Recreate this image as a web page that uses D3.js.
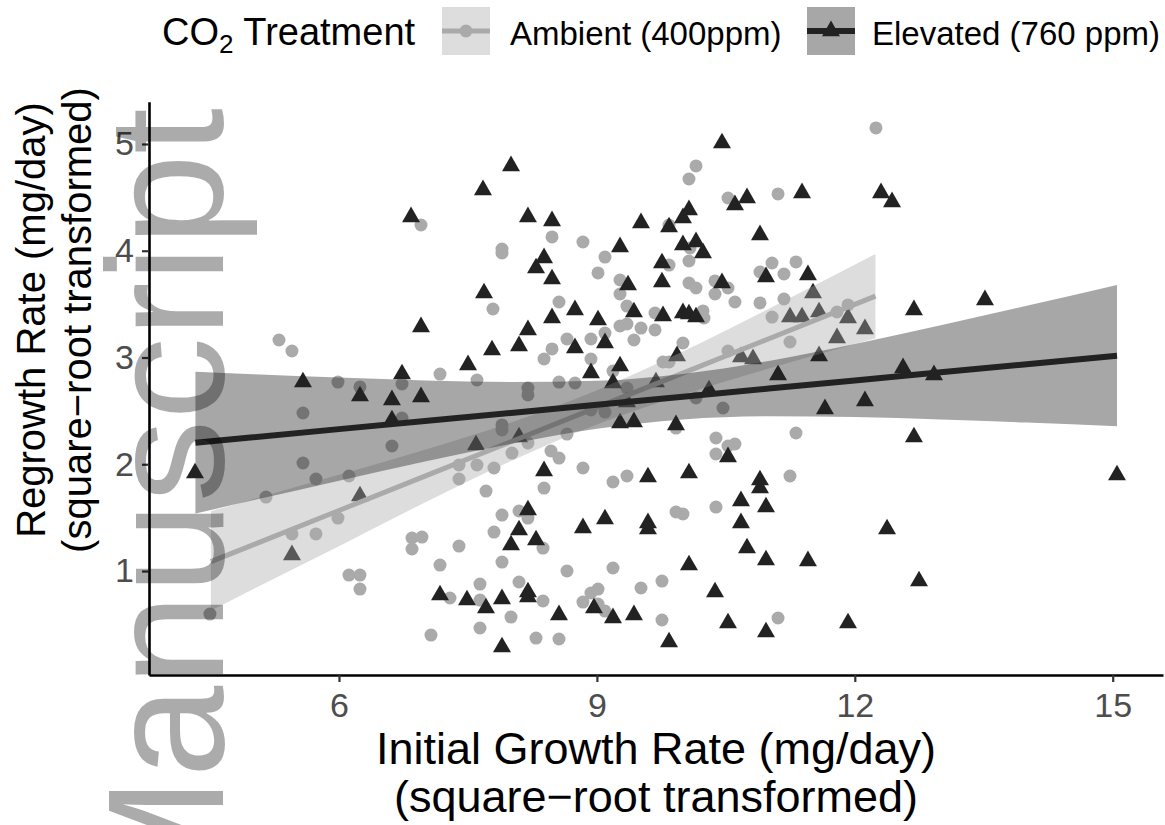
<!DOCTYPE html>
<html>
<head>
<meta charset="utf-8">
<script src="https://cdn.jsdelivr.net/npm/d3@7"></script>
<style>
  body { margin: 0; background: white; }
  text { font-family: "Liberation Sans", Arial, Helvetica, sans-serif; }
</style>
</head>
<body>
<div id="chart"></div>
<script>
var WIDTH = 1165;
var HEIGHT = 825;

// ambient (400ppm) points
const ambientX = [6.954,7.791,5.302,5.453,7.175,7.605,5.988,6.244,10.153,10.071,10.525,11.107,9.839,8.478,7.896,7.896,8.838,10.083,9.094,9.839,
  10.071,11.037,11.316,10.897,11.176,9.013,9.269,10.071,10.153,10.374,10.525,10.374,9.269,8.559,10.606,10.897,11.176,9.350,9.676,10.234,
  10.246,11.037,9.269,9.350,9.513,9.676,9.094,8.652,8.478,8.931,9.431,10.001,10.525,11.246,8.385,8.931,9.769,9.839,9.187,8.559,
  8.745,8.198,12.246,11.793,11.921,8.198,9.350,10.153,10.467,7.896,7.896,8.652,8.012,8.466,8.559,8.198,7.803,7.710,9.920,10.385,
  10.525,10.606,10.385,11.316,8.838,8.385,9.187,9.350,11.246,10.385,9.920,10.001,8.094,8.198,7.896,7.803,8.373,7.896,8.652,9.187,
  7.640,8.094,9.757,9.513,8.931,9.013,8.838,9.013,9.094,7.640,8.373,8.001,9.757,11.107,7.640,8.292,8.559,5.581,6.733,6.616,
  5.581,5.732,6.116,5.151,7.396,7.605,7.396,5.988,5.453,5.732,6.849,6.965,6.849,7.396,7.175,6.116,6.244,6.244,7.291,4.499,
  7.070,6.733,8.931,9.094]
const ambientY = [4.241,3.454,3.164,3.061,2.845,2.789,2.770,2.724,4.794,4.672,4.494,4.532,4.241,4.129,4.016,3.979,4.082,4.026,3.941,3.866,
  3.904,3.885,3.895,3.801,3.782,3.792,3.726,3.698,3.651,3.717,3.651,3.595,3.595,3.520,3.520,3.511,3.548,3.482,3.417,3.436,
  3.370,3.379,3.295,3.314,3.276,3.258,3.229,3.173,3.080,3.173,3.164,3.136,3.061,3.145,2.986,2.986,2.958,2.958,2.873,2.770,
  2.761,2.714,5.150,3.426,3.492,2.649,2.714,2.621,2.527,2.368,2.321,2.283,2.105,2.124,2.058,2.199,1.965,1.749,2.339,2.246,
  2.171,2.190,2.096,2.293,1.965,1.777,1.834,1.890,1.890,1.599,1.553,1.534,1.562,1.496,1.524,1.365,1.215,1.084,1.000,1.028,
  0.878,0.897,0.906,0.841,0.794,0.831,0.709,0.691,0.625,0.728,0.719,0.569,0.541,0.560,0.466,0.372,0.363,2.480,2.433,2.171,
  2.012,1.862,1.890,1.693,1.993,1.993,1.862,1.496,1.347,1.347,1.309,1.318,1.206,1.234,1.056,0.962,0.962,0.831,0.747,0.597,
  0.400,2.752,2.508,2.489]

// elevated (760 ppm) points
const elevatedX = [7.675,6.838,7.687,6.954,7.780,7.501,6.733,5.581,8.001,10.455,10.606,10.746,11.386,8.198,8.478,9.513,9.839,10.071,10.001,10.897,
  9.269,10.001,10.153,10.234,8.385,8.292,9.757,10.967,11.455,8.478,9.362,9.757,10.455,11.514,8.745,8.478,9.013,9.431,9.769,10.001,
  10.071,10.153,11.246,11.386,11.584,8.198,8.094,8.745,9.094,9.269,9.932,10.676,10.816,11.584,8.931,11.107,9.187,9.687,10.304,12.305,
  12.433,13.514,12.688,11.921,12.118,11.793,12.561,12.921,12.118,11.653,12.688,15.050,12.375,12.747,11.921,8.094,9.269,9.431,9.920,10.525,
  8.385,9.594,10.071,10.897,10.897,10.676,10.967,8.198,8.094,8.001,8.292,8.838,9.094,9.594,9.594,10.676,10.746,10.967,11.455,10.071,
  8.198,8.198,8.966,10.374,7.896,7.710,8.559,9.187,9.431,10.525,10.967,7.896,9.839,6.244,6.616,6.954,6.616,7.594,4.325,6.244,
  5.453,7.175,7.489,9.350]
const elevatedY = [4.569,4.316,3.604,3.286,3.070,2.930,2.845,2.770,4.794,5.009,4.429,4.494,4.541,4.316,4.279,4.260,4.222,4.382,4.307,4.148,
  4.035,4.054,4.082,3.979,3.932,3.838,3.885,3.754,3.773,3.735,3.679,3.707,3.698,3.604,3.445,3.370,3.351,3.426,3.389,3.417,
  3.407,3.379,3.379,3.379,3.426,3.258,3.108,3.089,3.136,2.920,3.014,3.005,2.986,3.014,2.855,2.836,2.761,2.770,2.695,4.541,
  4.457,3.539,3.445,3.370,3.267,3.183,2.902,2.836,2.593,2.518,2.255,1.899,1.393,0.906,0.513,2.255,2.386,2.396,2.368,2.068,
  1.937,1.880,1.918,1.852,1.777,1.656,1.599,1.571,1.384,1.243,1.290,1.403,1.487,1.450,1.393,1.450,1.215,1.103,1.094,1.056,
  0.803,0.756,0.653,0.803,0.738,0.653,0.588,0.560,0.588,0.513,0.428,0.288,0.335,2.639,2.602,2.630,2.414,2.180,1.918,1.702,
  1.150,0.775,0.728,2.583]

// fitted lines and confidence bands
const ambientFitX = [4.51, 5, 6, 7, 8, 9, 10, 11, 12.24]
const ambientFit = [1.088, 1.245, 1.567, 1.889, 2.211, 2.533, 2.854, 3.176, 3.575]
const ambientLo = [0.63, 0.83, 1.233, 1.642, 2.030, 2.372, 2.651, 2.896, 3.181]
const ambientHi = [1.56, 1.673, 1.901, 2.136, 2.392, 2.694, 3.057, 3.456, 3.969]

const elevatedFitX = [4.33, 5, 6, 7, 8, 9, 10, 11, 12, 13, 14, 15.05]
const elevatedFit = [2.202, 2.253, 2.329, 2.405, 2.481, 2.557, 2.633, 2.709, 2.785, 2.861, 2.937, 3.017]
const elevatedLo = [1.538, 1.662, 1.846, 2.025, 2.191, 2.332, 2.420, 2.450, 2.443, 2.420, 2.390, 2.355]
const elevatedHi = [2.866, 2.844, 2.812, 2.785, 2.771, 2.782, 2.846, 2.968, 3.127, 3.302, 3.484, 3.679]

const xTicks = [6, 9, 12, 15]
const yTicks = [1, 2, 3, 4, 5]
const groups = ["Ambient (400ppm)", "Elevated (760 ppm)"]
const groupColors = ["#aaaaaa", "#222222"]

var LEFT = 149, RIGHT = 1163, TOP = 101.7, BOTTOM = 675;

const svg = d3.select("#chart").append("svg").attr("width", WIDTH).attr("height", HEIGHT)

const x_scale = d3.scaleLinear().domain([3.79, 15.585]).range([LEFT, RIGHT])
const y_scale = d3.scaleLinear().domain([0.026, 5.396]).range([BOTTOM, TOP])
const color = d3.scaleOrdinal().domain(groups).range(groupColors)

const tri = d3.symbol().type(d3.symbolTriangle).size(140)

// points
const pts = svg.append("g")
pts.selectAll("circle").data(d3.range(ambientX.length)).enter().append("circle")
  .attr("cx", i => x_scale(ambientX[i])).attr("cy", i => y_scale(ambientY[i]))
  .attr("r", 6.5).attr("fill", color(groups[0]))
pts.selectAll("path").data(d3.range(elevatedX.length)).enter().append("path")
  .attr("d", tri).attr("transform", i => "translate(" + x_scale(elevatedX[i]) + "," + y_scale(elevatedY[i]) + ")")
  .attr("fill", color(groups[1]))

// smooths: ribbon then line, per group
function smooth(fx, fit, lo, hi, col, lw) {
  const band = d3.area().curve(d3.curveMonotoneX)
    .x(i => x_scale(fx[i])).y0(i => y_scale(lo[i])).y1(i => y_scale(hi[i]))
  svg.append("path").datum(d3.range(fx.length)).attr("d", band).attr("fill", col).attr("fill-opacity", 0.4)
  const ln = d3.line().x(i => x_scale(fx[i])).y(i => y_scale(fit[i]))
  svg.append("path").datum(d3.range(fx.length)).attr("d", ln).attr("fill", "none")
    .attr("stroke", col).attr("stroke-width", lw)
}
smooth(ambientFitX, ambientFit, ambientLo, ambientHi, color(groups[0]), 5)
smooth(elevatedFitX, elevatedFit, elevatedLo, elevatedHi, color(groups[1]), 6)

// axes
const gen_x = d3.axisBottom(x_scale).tickValues(xTicks).tickSize(7).tickPadding(11).tickSizeOuter(0).tickFormat(d3.format("d"))
const xg = svg.append("g").attr("transform", "translate(0," + BOTTOM + ")").call(gen_x)
const gen_y = d3.axisLeft(y_scale).tickValues(yTicks).tickSize(7).tickPadding(8).tickSizeOuter(0).tickFormat(d3.format("d"))
const yg = svg.append("g").attr("transform", "translate(" + LEFT + ",0)").call(gen_y)
;[xg, yg].forEach(g => {
  g.select(".domain").attr("stroke", "black").attr("stroke-width", 2.6)
  g.selectAll(".tick line").attr("stroke", "#333333").attr("stroke-width", 2.2)
  g.selectAll(".tick text").attr("fill", "#4d4d4d").style("font-size", "34px")
    .style("font-family", "'Liberation Sans', Arial, sans-serif")
})

// axis titles
const xt = svg.append("text").attr("text-anchor", "middle").style("font-size", "45px")
xt.append("tspan").attr("x", 656).attr("y", 764).text("Initial Growth Rate (mg/day)")
xt.append("tspan").attr("x", 656).attr("y", 812).text("(square\u2212root transformed)")

const yt = svg.append("text").attr("text-anchor", "middle").style("font-size", "40px")
  .attr("transform", "translate(0,320) rotate(-90)")
yt.append("tspan").attr("x", 0).attr("y", 45).text("Regrowth Rate (mg/day)")
yt.append("tspan").attr("x", 0).attr("y", 91).text("(square\u2212root transformed)")

// legend
const legend = svg.append("g").attr("id", "legend")
const lt = legend.append("text").attr("x", 162).attr("y", 45).style("font-size", "38px")
lt.append("tspan").text("CO")
lt.append("tspan").attr("dy", 8).style("font-size", "26px").text("2")
lt.append("tspan").attr("dy", -8).text(" Treatment")

const keyX = [442, 807]
const labelX = [510, 872]
groups.forEach((g, i) => {
  const row = legend.append("g").attr("transform", "translate(" + keyX[i] + ",7)")
  row.append("rect").attr("width", 48).attr("height", 48).attr("fill", color(g)).attr("fill-opacity", 0.4)
  row.append("line").attr("x1", 0).attr("x2", 48).attr("y1", 24).attr("y2", 24)
    .attr("stroke", color(g)).attr("stroke-width", i ? 6 : 5)
  if (i == 0) row.append("circle").attr("cx", 24).attr("cy", 24).attr("r", 6.5).attr("fill", color(g))
  else row.append("path").attr("d", tri).attr("transform", "translate(24,24)").attr("fill", color(g))
  legend.append("text").attr("x", labelX[i]).attr("y", 45).style("font-size", "33px").text(g)
})

// watermark on top
svg.append("text").attr("transform", "translate(223,915) rotate(-90)")
  .style("font-size", "165px").attr("fill", "black").attr("fill-opacity", 0.33)
  .text("Manuscript")
</script>
</body>
</html>
